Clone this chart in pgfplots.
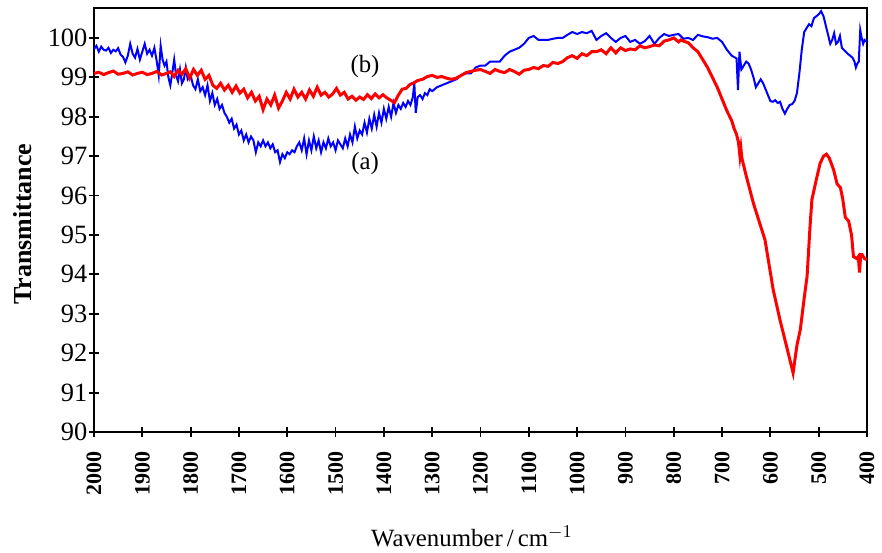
\documentclass[border=0pt]{standalone}
\usepackage{pgfplots}
\pgfplotsset{compat=1.18}
\usepackage{fontspec}
\setmainfont{Liberation Serif}
\begin{document}
\begin{tikzpicture}
\useasboundingbox (-47pt,-60pt) rectangle (394pt,216pt);
\begin{axis}[name=ax, at={(0,0)}, anchor=south west,
  scale only axis, width=386.5pt, height=212pt,
  xmin=400, xmax=2000, ymin=90, ymax=100.76,
  x dir=reverse,
  xtick={400,500,...,2000}, ytick={90,91,...,100},
  xtick pos=left, ytick pos=left,
  tick align=center, major tick length=5pt,
  axis line style={line width=0.9pt}, every tick/.style={line width=0.9pt, black},
  /pgf/number format/assume math mode=true,
  /pgf/number format/1000 sep={},
  xticklabel style={font=\bfseries\fontsize{11}{13}\selectfont, rotate=90, anchor=east, inner sep=1pt, xshift=-6.2pt},
  yticklabel style={font=\fontsize{13.2}{15}\selectfont, inner sep=0.6pt},
  xlabel={Wavenumber\,/\,cm$^{-1}$},
  ylabel={\bfseries Transmittance},
  xlabel style={font=\fontsize{12.4}{14}\selectfont, at={(ticklabel cs:0.489)}, yshift=-10.5pt},
  ylabel style={font=\fontsize{13}{15}\selectfont, at={(axis description cs:-0.0712,0.49)}, anchor=south},
]
\addplot[blue, line width=1pt] coordinates {
(2000,99.72)(1995,99.80)(1990,99.65)(1985,99.78)(1980,99.70)(1975,99.68)(1970,99.75)(1965,99.62)(1960,99.70)(1955,99.66)
(1950,99.74)(1945,99.58)(1940,99.52)(1935,99.38)(1930,99.55)(1925,99.85)(1920,99.60)(1915,99.50)(1910,99.72)(1905,99.45)
(1900,99.65)(1895,99.85)(1890,99.60)(1885,99.70)(1880,99.55)(1875,99.75)(1870,99.40)(1866,99.05)(1862,99.80)(1858,99.45)
(1854,99.30)(1850,99.40)(1846,99.00)(1842,98.80)(1838,99.10)(1834,99.45)(1830,99.05)(1826,98.90)(1822,99.20)(1818,98.85)
(1814,98.95)(1810,99.25)(1806,98.95)(1800,99.05)(1795,98.80)(1790,98.70)(1785,98.95)(1780,98.65)(1775,98.75)(1770,98.55)
(1765,98.80)(1760,98.40)(1755,98.60)(1750,98.30)(1745,98.45)(1740,98.20)(1735,98.30)(1730,98.10)(1725,98.00)(1720,97.85)
(1715,97.95)(1710,97.70)(1705,97.80)(1700,97.55)(1695,97.65)(1690,97.40)(1685,97.55)(1680,97.35)(1675,97.50)(1670,97.40)
(1665,97.10)(1660,97.35)(1655,97.25)(1650,97.40)(1645,97.25)(1640,97.35)(1635,97.20)(1630,97.30)(1625,97.10)(1620,97.15)
(1615,96.85)(1610,97.05)(1605,96.95)(1600,97.10)(1595,97.05)(1590,97.15)(1585,97.10)(1580,97.25)(1575,97.35)(1570,97.15)
(1565,97.45)(1560,97.05)(1555,97.40)(1550,97.15)(1545,97.50)(1540,97.20)(1535,97.40)(1530,97.10)(1525,97.35)(1520,97.20)
(1515,97.45)(1510,97.25)(1505,97.35)(1500,97.15)(1495,97.40)(1490,97.30)(1485,97.20)(1480,97.45)(1475,97.25)(1470,97.55)
(1465,97.35)(1460,97.75)(1455,97.45)(1450,97.65)(1445,97.55)(1440,97.85)(1435,97.60)(1430,97.95)(1425,97.70)(1420,98.05)
(1415,97.75)(1410,98.10)(1405,97.85)(1400,98.20)(1395,97.95)(1390,98.25)(1385,98.00)(1380,98.35)(1375,98.10)(1370,98.30)
(1365,98.20)(1360,98.35)(1355,98.25)(1350,98.40)(1345,98.30)(1340,98.50)(1337,98.85)(1334,98.10)(1330,98.50)(1325,98.55)
(1320,98.45)(1315,98.60)(1310,98.55)(1305,98.70)(1300,98.65)(1290,98.75)(1280,98.80)(1270,98.85)(1260,98.90)(1250,98.95)
(1240,99.05)(1230,99.10)(1220,99.10)(1210,99.25)(1200,99.30)(1190,99.30)(1180,99.40)(1170,99.40)(1160,99.40)(1150,99.55)
(1140,99.65)(1130,99.70)(1120,99.75)(1110,99.85)(1100,100.00)(1090,100.05)(1080,99.95)(1070,99.95)(1060,99.95)(1050,99.98)
(1040,100.00)(1030,100.00)(1020,100.08)(1010,100.15)(1000,100.10)(990,100.15)(980,100.12)(970,100.18)(960,99.95)(950,100.05)
(940,100.12)(930,100.00)(920,99.90)(910,100.00)(900,100.05)(890,99.90)(880,99.95)(870,99.85)(860,99.92)(850,100.05)
(840,99.85)(830,100.00)(820,100.10)(810,100.05)(800,100.08)(790,100.10)(780,99.98)(770,100.00)(760,99.95)(750,100.08)
(740,100.04)(730,100.02)(720,99.98)(710,100.00)(700,99.90)(690,99.70)(680,99.55)(670,99.48)(667,98.68)(664,99.65)
(660,99.20)(655,99.30)(650,99.40)(645,99.35)(640,99.20)(635,99.00)(630,98.75)(625,98.85)(620,98.95)(615,98.85)
(610,98.70)(605,98.55)(600,98.40)(595,98.38)(590,98.42)(585,98.35)(580,98.38)(575,98.20)(570,98.08)(565,98.20)
(560,98.30)(555,98.32)(550,98.40)(545,98.60)(540,99.10)(535,99.70)(530,100.15)(525,100.25)(520,100.35)(515,100.30)
(510,100.50)(505,100.55)(500,100.60)(495,100.68)(490,100.55)(485,100.30)(480,100.05)(476,99.85)(472,99.95)(468,100.12)
(464,99.85)(460,99.90)(456,100.05)(452,99.75)(448,99.70)(444,99.65)(440,99.60)(435,99.55)(430,99.50)(426,99.40)
(423,99.25)(420,99.35)(417,99.40)(414,100.20)(411,100.00)(408,99.85)(405,99.95)(400,99.90)
};
\addplot[red, line width=1.5pt] coordinates {
(2000,99.10)(1990,99.13)(1980,99.07)(1970,99.12)(1960,99.16)(1950,99.08)(1940,99.10)(1930,99.14)(1920,99.06)(1910,99.10)
(1900,99.13)(1890,99.07)(1880,99.10)(1870,99.15)(1860,99.06)(1850,99.10)(1842,99.14)(1834,99.02)(1826,99.18)(1818,99.08)
(1810,99.22)(1802,98.98)(1794,99.20)(1786,99.05)(1778,99.18)(1770,98.95)(1762,99.05)(1754,98.80)(1746,98.72)(1738,98.85)
(1730,98.68)(1722,98.80)(1714,98.62)(1706,98.78)(1698,98.60)(1690,98.70)(1682,98.48)(1674,98.62)(1666,98.40)(1658,98.52)
(1650,98.18)(1642,98.45)(1634,98.30)(1626,98.55)(1618,98.22)(1610,98.40)(1602,98.62)(1594,98.45)(1586,98.70)(1578,98.50)
(1570,98.62)(1562,98.45)(1554,98.68)(1546,98.52)(1538,98.75)(1530,98.55)(1522,98.62)(1514,98.50)(1506,98.58)(1498,98.72)
(1490,98.55)(1482,98.62)(1474,98.45)(1466,98.52)(1458,98.42)(1450,98.50)(1442,98.44)(1434,98.56)(1426,98.46)(1418,98.58)
(1410,98.48)(1402,98.56)(1394,98.48)(1386,98.42)(1378,98.36)(1370,98.55)(1362,98.70)(1354,98.72)(1346,98.82)(1338,98.86)
(1330,98.92)(1320,98.95)(1310,99.02)(1300,99.05)(1290,99.00)
(1280,99.02)(1270,98.98)(1260,98.95)(1250,98.98)(1240,99.05)(1230,99.12)(1220,99.15)(1210,99.18)(1200,99.20)(1190,99.15)
(1180,99.10)(1170,99.20)(1160,99.15)(1150,99.12)(1140,99.20)(1130,99.15)(1120,99.08)(1110,99.18)(1100,99.20)(1090,99.25)
(1080,99.22)(1070,99.30)(1060,99.28)(1050,99.38)(1040,99.35)(1030,99.40)(1020,99.50)(1010,99.55)(1000,99.48)(990,99.60)
(980,99.55)(970,99.65)(960,99.65)(950,99.70)(940,99.60)(930,99.75)(920,99.62)(910,99.75)(900,99.68)(890,99.72)
(880,99.70)(870,99.80)(860,99.75)(850,99.78)(840,99.82)(830,99.80)(820,99.92)(810,99.95)(800,100.00)(795,99.95)
(790,99.90)(785,99.95)(780,99.92)(770,99.88)(760,99.75)(750,99.65)(740,99.45)(730,99.25)(720,99.00)(710,98.75)
(700,98.45)(690,98.15)(680,97.90)(675,97.70)(670,97.55)(666,97.35)(663,97.00)(661,97.20)(659,96.95)(650,96.50)
(635,95.80)(611,94.87)(594,93.60)(580,92.84)(565,92.10)(553,91.50)(545,92.20)(538,92.60)(530,93.40)(524,93.95)
(518,95.20)(514,95.90)(505,96.40)(497,96.82)(490,97.00)(484,97.05)(478,96.95)(469,96.65)(462,96.30)(455,96.20)
(450,95.90)(445,95.45)(438,95.35)(432,95.00)(428,94.45)(421,94.40)(418,94.45)(415.5,94.05)(413,94.50)(410,94.50)
(405,94.40)(400,94.37)
};
\node[font=\fontsize{12.4}{14}\selectfont] at (axis cs:1439,99.27) {(b)};
\node[font=\fontsize{12.4}{14}\selectfont] at (axis cs:1439,96.82) {(a)};
\end{axis}
\end{tikzpicture}
\end{document}
